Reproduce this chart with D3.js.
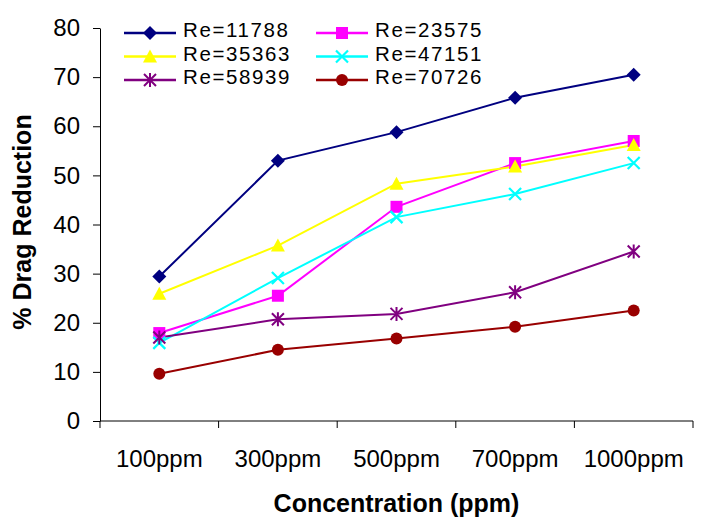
<!DOCTYPE html>
<html><head><meta charset="utf-8">
<script src="https://cdn.jsdelivr.net/npm/d3@7"></script>
<style>body{margin:0;background:#fff}svg{display:block}text{font-family:Arial,"Liberation Sans",sans-serif}</style>
</head><body><svg id="c" width="704" height="532"></svg>
<script>
const categories = ["100ppm","300ppm","500ppm","700ppm","1000ppm"];
const seriesNames = ["Re=11788","Re=23575","Re=35363","Re=47151","Re=58939","Re=70726"];
const re11788 = [29.4, 53.0, 58.8, 65.8, 70.5];
const re23575 = [17.9, 25.5, 43.6, 52.5, 57.0];
const re35363 = [25.9, 35.7, 48.3, 51.8, 56.2];
const re47151 = [15.9, 29.1, 41.5, 46.2, 52.5];
const re58939 = [17.0, 20.7, 21.8, 26.2, 34.5];
const re70726 = [9.6, 14.5, 16.8, 19.2, 22.5];
const yTicks = [0,10,20,30,40,50,60,70,80];

const series = [
  {name: seriesNames[0], values: re11788, color: "#000080", marker: "diamond"},
  {name: seriesNames[1], values: re23575, color: "#FF00FF", marker: "square"},
  {name: seriesNames[2], values: re35363, color: "#FFFF00", marker: "triangle"},
  {name: seriesNames[3], values: re47151, color: "#00FFFF", marker: "x"},
  {name: seriesNames[4], values: re58939, color: "#800080", marker: "star"},
  {name: seriesNames[5], values: re70726, color: "#990000", marker: "circle"}
];

const svg = d3.select("#c");
const L = 100, R = 693, T = 28, B = 421;
const x = d3.scaleBand().domain(categories).range([L, R]);
const y = d3.scaleLinear().domain([0, 80]).range([B, T]);

// axes
const yAxis = d3.axisLeft(y).tickValues(yTicks).tickSize(7).tickPadding(13).tickSizeOuter(0);
const gy = svg.append("g").attr("transform", `translate(${L},0)`).call(yAxis);
gy.selectAll("text").attr("font-size", 24).attr("fill", "#000");
gy.selectAll("line,path").attr("stroke", "#000");

const xAxis = d3.axisBottom(x).tickSize(0).tickPadding(0);
const gx = svg.append("g").attr("transform", `translate(0,${B})`).call(xAxis);
gx.select(".domain").attr("stroke", "#000").attr("d", `M${L},0H${R}`);
gx.selectAll("text").attr("font-size", 24).attr("fill", "#000").attr("dy", null).attr("y", 46);
// category boundary ticks
const bounds = categories.map(c => x(c)).concat([R]);
gx.selectAll(".bt").data(bounds).enter().append("line").attr("class","bt")
  .attr("x1", d => d).attr("x2", d => d).attr("y1", 0).attr("y2", 7).attr("stroke", "#000");

// titles
svg.append("text").attr("x", (L + R) / 2).attr("y", 512).attr("text-anchor", "middle")
  .attr("font-size", 25).attr("font-weight", "bold").text("Concentration (ppm)");
svg.append("text").attr("transform", "translate(31,222) rotate(-90)").attr("text-anchor", "middle")
  .attr("font-size", 25).attr("font-weight", "bold").text("% Drag Reduction");

function drawMarker(g, type, color) {
  const s = 6;
  if (type === "diamond") g.append("path").attr("d", `M0,${-s-1}L${s+1},0L0,${s+1}L${-s-1},0Z`).attr("fill", color);
  else if (type === "square") g.append("rect").attr("x", -s).attr("y", -s).attr("width", 2*s).attr("height", 2*s).attr("fill", color);
  else if (type === "triangle") g.append("path").attr("d", `M0,${-s-1}L${s+1},${s}L${-s-1},${s}Z`).attr("fill", color);
  else if (type === "x") g.append("path").attr("d", `M${-s},${-s}L${s},${s}M${-s},${s}L${s},${-s}`).attr("stroke", color).attr("stroke-width", 2.2);
  else if (type === "star") g.append("path").attr("d", `M${-s},${-s}L${s},${s}M${-s},${s}L${s},${-s}M0,${-s-1}L0,${s+1}`).attr("stroke", color).attr("stroke-width", 2);
  else if (type === "circle") g.append("circle").attr("r", s).attr("fill", color);
}

const cx = c => x(c) + x.bandwidth() / 2;
const line = d3.line().x((d, i) => cx(categories[i])).y(d => y(d));
series.forEach(s => {
  svg.append("path").attr("d", line(s.values)).attr("fill", "none").attr("stroke", s.color).attr("stroke-width", 2);
});
series.forEach(s => {
  s.values.forEach((v, i) => {
    const g = svg.append("g").attr("transform", `translate(${cx(categories[i])},${y(v)})`);
    drawMarker(g, s.marker, s.color);
  });
});

// legend
const legX = [124, 316], legY = [33, 56.5, 80];
series.forEach((s, i) => {
  const col = i % 2, row = Math.floor(i / 2);
  const g = svg.append("g").attr("transform", `translate(${legX[col]},${legY[row]})`);
  g.append("line").attr("x1", 0).attr("x2", 52).attr("stroke", s.color).attr("stroke-width", 2.5);
  const m = g.append("g").attr("transform", "translate(26,0)");
  drawMarker(m, s.marker, s.color);
  g.append("text").attr("x", 59).attr("y", 4).attr("font-size", 20.5)
    .attr("letter-spacing", 1.6).attr("fill", "#000").text(s.name);
});
</script></body></html>
